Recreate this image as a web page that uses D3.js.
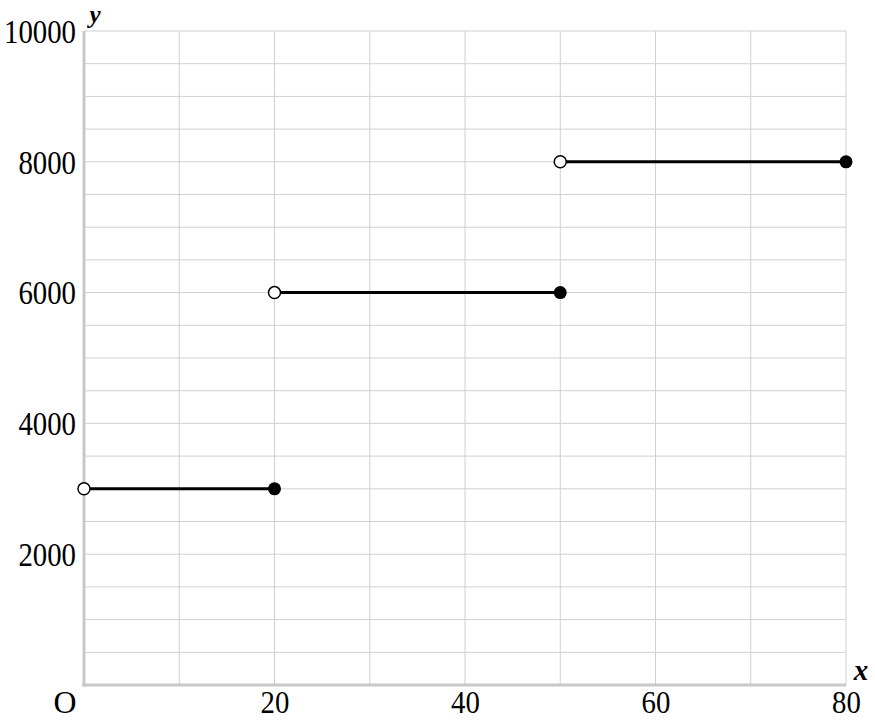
<!DOCTYPE html>
<html>
<head>
<meta charset="utf-8">
<script src="https://cdn.jsdelivr.net/npm/d3@7"></script>
<style>
  body { margin: 0; background: #fff; }
</style>
</head>
<body>
<div id="chart"></div>
<script>
// Step function pieces: open at x0, closed at x1
let segX0 = [0, 20, 50];
let segX1 = [20, 50, 80];
let segY  = [3000, 6000, 8000];

let xTickLabels = [20, 40, 60, 80];
let yTickLabels = [2000, 4000, 6000, 8000, 10000];
let xGrid = d3.range(0, 81, 10);
let yGrid = d3.range(0, 10001, 500);

let width = 875, height = 721;
let margin = {top: 31, right: 29, bottom: 36, left: 84};
let serif = "'Liberation Serif', 'DejaVu Serif', serif";

let svg = d3.select("#chart").append("svg")
    .attr("width", width)
    .attr("height", height)
    .attr("font-family", serif);

let x = d3.scaleLinear().domain([0, 80]).range([margin.left, width - margin.right]);
let y = d3.scaleLinear().domain([0, 10000]).range([height - margin.bottom, margin.top]);

// Grid
let grid = svg.append("g").attr("class", "grid");
grid.selectAll("line.v").data(xGrid).enter().append("line")
    .attr("x1", d => x(d)).attr("x2", d => x(d))
    .attr("y1", y(0)).attr("y2", y(10000))
    .attr("stroke", "#d0d0d0").attr("stroke-width", 1);
grid.selectAll("line.h").data(yGrid).enter().append("line")
    .attr("x1", x(0)).attr("x2", x(80))
    .attr("y1", d => y(d)).attr("y2", d => y(d))
    .attr("stroke", "#d0d0d0").attr("stroke-width", 1);

// Axes (thick grey lines on left and bottom)
svg.append("line")
    .attr("x1", x(0)).attr("x2", x(0))
    .attr("y1", y(0) + 1.5).attr("y2", y(10000))
    .attr("stroke", "#c8c8c8").attr("stroke-width", 3);
svg.append("line")
    .attr("x1", x(0) - 1.5).attr("x2", x(80))
    .attr("y1", y(0)).attr("y2", y(0))
    .attr("stroke", "#c8c8c8").attr("stroke-width", 3);

// Tick labels
let fontSize = 33;
let digitW = 14.4;

let yAxis = d3.axisLeft(y).tickValues(yTickLabels).tickFormat(d3.format("d"))
    .tickSize(0).tickPadding(0);
let gy = svg.append("g")
    .attr("transform", "translate(" + (x(0) - 8) + ",0)")
    .call(yAxis)
    .attr("font-family", serif)
    .attr("font-size", fontSize);
gy.select(".domain").remove();
gy.selectAll("text")
    .attr("dy", "0.34em")
    .attr("textLength", d => String(d).length * digitW)
    .attr("lengthAdjust", "spacingAndGlyphs");

let xAxis = d3.axisBottom(x).tickValues(xTickLabels).tickFormat(d3.format("d"))
    .tickSize(0).tickPadding(0);
let gx = svg.append("g")
    .call(xAxis)
    .attr("font-family", serif)
    .attr("font-size", 32);
gx.select(".domain").remove();
gx.selectAll("text")
    .attr("y", 713)
    .attr("dy", 0)
    .attr("textLength", d => String(d).length * digitW)
    .attr("lengthAdjust", "spacingAndGlyphs");

// Origin label and axis names
svg.append("text")
    .attr("x", x(0) - 19).attr("y", 713)
    .attr("text-anchor", "middle")
    .attr("font-size", 32)
    .attr("textLength", 23)
    .attr("lengthAdjust", "spacingAndGlyphs")
    .text("O");
svg.append("text")
    .attr("x", x(80) + 15).attr("y", 680)
    .attr("text-anchor", "middle")
    .attr("font-size", 29)
    .attr("font-style", "italic")
    .attr("font-weight", "bold")
    .text("x");
svg.append("text")
    .attr("x", x(0) + 11).attr("y", 23)
    .attr("text-anchor", "middle")
    .attr("font-size", 25)
    .attr("font-style", "italic")
    .attr("font-weight", "bold")
    .text("y");

// Step segments
let segs = segY.map((v, i) => ({x0: segX0[i], x1: segX1[i], y: v}));
svg.selectAll("line.seg").data(segs).enter().append("line")
    .attr("x1", d => x(d.x0)).attr("x2", d => x(d.x1))
    .attr("y1", d => y(d.y)).attr("y2", d => y(d.y))
    .attr("stroke", "#000").attr("stroke-width", 3);

// Open endpoints
svg.selectAll("circle.open").data(segs).enter().append("circle")
    .attr("cx", d => x(d.x0)).attr("cy", d => y(d.y))
    .attr("r", 6)
    .attr("fill", "#fff").attr("stroke", "#000").attr("stroke-width", 1.5);

// Closed endpoints
svg.selectAll("circle.closed").data(segs).enter().append("circle")
    .attr("cx", d => x(d.x1)).attr("cy", d => y(d.y))
    .attr("r", 6.5)
    .attr("fill", "#000");
</script>
</body>
</html>
